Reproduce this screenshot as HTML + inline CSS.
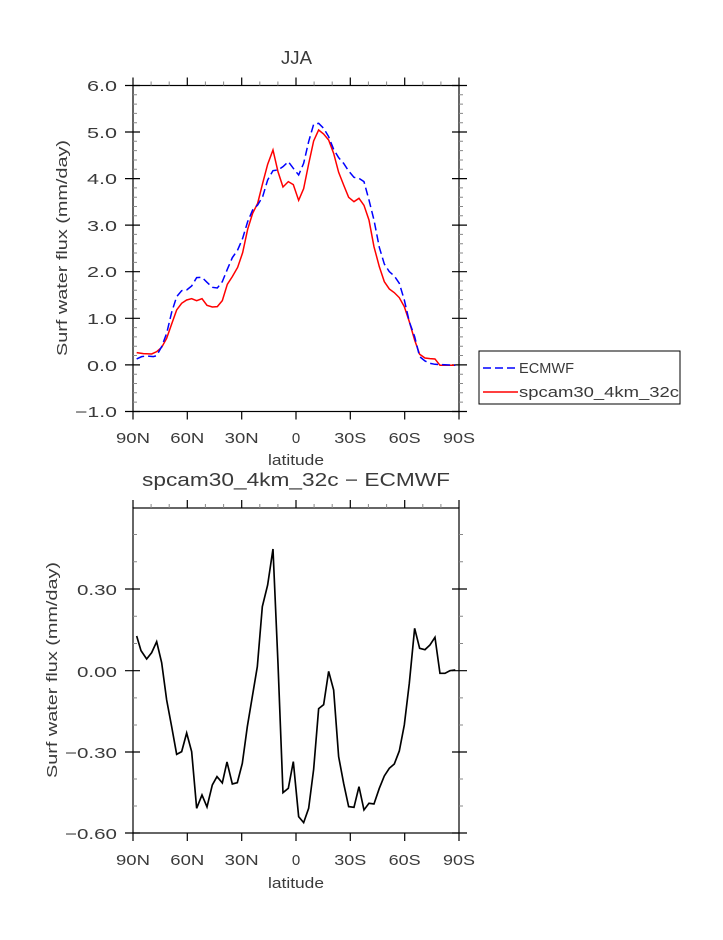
<!DOCTYPE html><html><head><style>body{margin:0;background:#fff}svg text{font-family:"Liberation Sans",sans-serif;fill:#3a3a3a}</style></head><body>
<svg width="723" height="935" xmlns="http://www.w3.org/2000/svg">
<g stroke="#000" fill="none" stroke-width="1.2">
<rect x="133" y="85.5" width="326" height="326"/>
<rect x="133" y="508" width="326" height="325"/>
</g>
<g stroke="#000" stroke-width="1.2">
<path d="M133 85.5v-8M187.3 85.5v-8M241.7 85.5v-8M296 85.5v-8M350.3 85.5v-8M404.7 85.5v-8M459 85.5v-8
M133 411.5v8M187.3 411.5v8M241.7 411.5v8M296 411.5v8M350.3 411.5v8M404.7 411.5v8M459 411.5v8
M125 85.5h15M125 132h15M125 178.6h15M125 225.1h15M125 271.7h15M125 318.3h15M125 364.9h15M125 411.5h15
M452 85.5h15M452 132h15M452 178.6h15M452 225.1h15M452 271.7h15M452 318.3h15M452 364.9h15M452 411.5h15
M133 508v-8M187.3 508v-8M241.7 508v-8M296 508v-8M350.3 508v-8M404.7 508v-8M459 508v-8
M133 833v8M187.3 833v8M241.7 833v8M296 833v8M350.3 833v8M404.7 833v8M459 833v8
M125 589h15M125 670.7h15M125 752h15M125 833h15M452 589h15M452 670.7h15M452 752h15M452 833h15"/>
</g>
<g stroke="#888" stroke-width="1">
<path d="M151.1 85.5v-4M169.2 85.5v-4M205.4 85.5v-4M223.6 85.5v-4M259.8 85.5v-4M277.9 85.5v-4M314.1 85.5v-4M332.2 85.5v-4M368.4 85.5v-4M386.6 85.5v-4M422.8 85.5v-4M440.9 85.5v-4
M151.1 508v-4M169.2 508v-4M205.4 508v-4M223.6 508v-4M259.8 508v-4M277.9 508v-4M314.1 508v-4M332.2 508v-4M368.4 508v-4M386.6 508v-4M422.8 508v-4M440.9 508v-4"/>
<path d="M133 94.8h4M133 104.1h4M133 113.4h4M133 122.7h4M133 141.3h4M133 150.6h4M133 160h4M133 169.3h4M133 187.9h4M133 197.2h4M133 206.5h4M133 215.8h4M133 234.4h4M133 243.7h4M133 253h4M133 262.4h4M133 281h4M133 290.3h4M133 299.6h4M133 308.9h4M133 327.6h4M133 336.9h4M133 346.2h4M133 355.5h4M133 374.2h4M133 383.5h4M133 392.8h4M133 402.1h4
M459 94.8h4M459 104.1h4M459 113.4h4M459 122.7h4M459 141.3h4M459 150.6h4M459 160h4M459 169.3h4M459 187.9h4M459 197.2h4M459 206.5h4M459 215.8h4M459 234.4h4M459 243.7h4M459 253h4M459 262.4h4M459 281h4M459 290.3h4M459 299.6h4M459 308.9h4M459 327.6h4M459 336.9h4M459 346.2h4M459 355.5h4M459 374.2h4M459 383.5h4M459 392.8h4M459 402.1h4
M133 534.5h4M133 561.8h4M133 616.3h4M133 643.5h4M133 697.9h4M133 725h4M133 779h4M133 806h4
M459 534.5h4M459 561.8h4M459 616.3h4M459 643.5h4M459 697.9h4M459 725h4M459 779h4M459 806h4"/>
</g>
<g transform="translate(100,70) scale(0.3333)" fill="none" stroke-width="4.5">
<polyline stroke="#ff0000" points="110,848 130,851 155,852 170,845 185,832 200,805 215,762 230,720 245,700 260,690 275,686 290,692 306,686 321,706 337,711 352,710 367,692 382,643 397,620 413,592 428,548 443,478 458,430 473,400 488,340 503,283 519,240 534,305 549,351 565,335 580,344 596,391 611,356 626,282 641,213 656,180 671,192 686,210 701,250 716,307 731,345 746,382 762,395 777,385 792,406 807,450 822,530 838,590 853,635 868,657 883,668 898,683 913,710 928,755 944,810 959,853 975,864 990,866 1005,867 1020,886 1066,886"/>
<polyline stroke="#0000ff" stroke-dasharray="24,12" points="110,867 125,860 140,858 160,860 170,857 185,830 200,790 215,727 230,680 245,662 260,660 275,648 290,623 306,622 321,637 337,652 352,654 367,635 382,598 397,563 413,540 428,505 443,455 458,420 473,405 488,380 503,330 519,302 534,300 549,290 565,275 580,295 596,315 611,280 626,215 641,163 656,160 671,175 686,200 701,238 716,263 731,280 746,303 762,322 777,325 792,335 807,390 822,450 838,532 853,582 868,605 883,618 898,640 913,690 928,755 944,800 959,860 975,873 990,880 1005,883 1066,886"/>
</g>
<g transform="translate(100,490) scale(0.3333)" fill="none" stroke-width="5">
<polyline stroke="#000" points="110,438 123,482 140,507 155,488 170,455 185,518 200,630 215,710 230,793 245,785 260,729 275,785 290,955 306,915 321,951 337,885 351,860 367,879 381,816 397,882 412,878 427,820 442,710 457,620 472,530 487,350 503,285 519,177 534,520 549,908 565,895 580,815 596,980 611,998 626,955 641,838 656,656 671,644 686,544 701,600 716,800 731,880 746,950 762,952 777,890 792,960 807,940 822,942 838,895 853,858 868,835 883,822 898,783 913,705 928,580 944,415 959,475 975,479 990,465 1005,442 1020,550 1035,550 1050,542 1066,540"/>
</g>
<rect x="479" y="351" width="201" height="53" fill="none" stroke="#000" stroke-width="1"/>
<line x1="483" y1="368" x2="518" y2="368" stroke="#0000ff" stroke-width="1.5" stroke-dasharray="8,4"/>
<line x1="483" y1="392" x2="518" y2="392" stroke="#ff0000" stroke-width="1.5"/>
<text x="519" y="373" font-size="15" textLength="55" lengthAdjust="spacingAndGlyphs">ECMWF</text>
<text x="519" y="397" font-size="15" textLength="160" lengthAdjust="spacingAndGlyphs">spcam30_4km_32c</text>
<text x="281" y="64" font-size="18" textLength="31" lengthAdjust="spacingAndGlyphs">JJA</text>
<text x="142" y="486" font-size="18" textLength="308" lengthAdjust="spacingAndGlyphs">spcam30_4km_32c − ECMWF</text>
<g font-size="15" text-anchor="end">
<text x="117" y="91" textLength="30" lengthAdjust="spacingAndGlyphs">6.0</text><text x="117" y="138" textLength="30" lengthAdjust="spacingAndGlyphs">5.0</text><text x="117" y="184" textLength="30" lengthAdjust="spacingAndGlyphs">4.0</text><text x="117" y="231" textLength="30" lengthAdjust="spacingAndGlyphs">3.0</text><text x="117" y="277" textLength="30" lengthAdjust="spacingAndGlyphs">2.0</text><text x="117" y="324" textLength="30" lengthAdjust="spacingAndGlyphs">1.0</text><text x="117" y="371" textLength="30" lengthAdjust="spacingAndGlyphs">0.0</text><text x="117" y="417" textLength="42" lengthAdjust="spacingAndGlyphs">−1.0</text>
<text x="117" y="595" textLength="40" lengthAdjust="spacingAndGlyphs">0.30</text><text x="117" y="677" textLength="40" lengthAdjust="spacingAndGlyphs">0.00</text><text x="117" y="758" textLength="52" lengthAdjust="spacingAndGlyphs">−0.30</text><text x="117" y="839" textLength="52" lengthAdjust="spacingAndGlyphs">−0.60</text>
</g>
<g font-size="15" text-anchor="middle">
<text x="133" y="443" textLength="34" lengthAdjust="spacingAndGlyphs">90N</text><text x="187.3" y="443" textLength="34" lengthAdjust="spacingAndGlyphs">60N</text><text x="241.7" y="443" textLength="34" lengthAdjust="spacingAndGlyphs">30N</text><text x="296" y="443">0</text><text x="350.3" y="443" textLength="32" lengthAdjust="spacingAndGlyphs">30S</text><text x="404.7" y="443" textLength="32" lengthAdjust="spacingAndGlyphs">60S</text><text x="459" y="443" textLength="32" lengthAdjust="spacingAndGlyphs">90S</text>
<text x="296" y="465" textLength="56" lengthAdjust="spacingAndGlyphs">latitude</text>
<text x="133" y="865" textLength="34" lengthAdjust="spacingAndGlyphs">90N</text><text x="187.3" y="865" textLength="34" lengthAdjust="spacingAndGlyphs">60N</text><text x="241.7" y="865" textLength="34" lengthAdjust="spacingAndGlyphs">30N</text><text x="296" y="865">0</text><text x="350.3" y="865" textLength="32" lengthAdjust="spacingAndGlyphs">30S</text><text x="404.7" y="865" textLength="32" lengthAdjust="spacingAndGlyphs">60S</text><text x="459" y="865" textLength="32" lengthAdjust="spacingAndGlyphs">90S</text>
<text x="296" y="888" textLength="56" lengthAdjust="spacingAndGlyphs">latitude</text>
<text transform="translate(67,248) rotate(-90)" textLength="216" lengthAdjust="spacingAndGlyphs">Surf water flux (mm/day)</text>
<text transform="translate(57,670) rotate(-90)" textLength="216" lengthAdjust="spacingAndGlyphs">Surf water flux (mm/day)</text>
</g>
</svg></body></html>
